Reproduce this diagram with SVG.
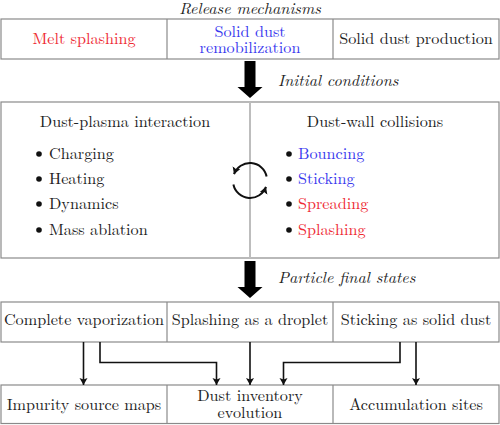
<svg xmlns="http://www.w3.org/2000/svg" width="500" height="425" viewBox="0 0 500 425">
<style>
  text { font-size: 16.2px; fill: #222; }
  .c { text-anchor: middle; }
  .it { font-style: italic; }
  .red { fill: #ee2a33; }
  .blue { fill: #3838ee; }
  .box { fill: #fff; stroke: #8a8a8a; stroke-width: 1.2; }
  .div { stroke: #8a8a8a; stroke-width: 1.2; }
  .conn { fill: none; stroke: #111; stroke-width: 1.6; }
  .big { fill: #000; }
  .cyc { fill: none; stroke: #111; stroke-width: 2; }
</style>
<defs>
  <marker id="ah" markerUnits="userSpaceOnUse" markerWidth="10" markerHeight="10" refX="7" refY="4" orient="auto">
    <path d="M0,0 L7,4 L0,8 L1.5,4 z" fill="#111"/>
  </marker>
  <marker id="ac" markerUnits="userSpaceOnUse" markerWidth="10" markerHeight="10" refX="7" refY="4.5" orient="auto">
    <path d="M0,0.5 L7,4.5 L0,8.5 L1.5,4.5 z" fill="#111"/>
  </marker>
</defs>
<g font-family="'Latin Modern Roman', 'CMU Serif', 'Liberation Serif', Tinos, 'Noto Serif', 'DejaVu Serif', 'Nimbus Roman', FreeSerif, 'Times New Roman', Times, serif">
<text class="c it" x="250" y="13.5">Release mechanisms</text>

<g id="release">
  <rect class="box" x="1" y="19" width="498" height="40"/>
  <line class="div" x1="167" y1="19" x2="167" y2="59"/>
  <line class="div" x1="333" y1="19" x2="333" y2="59"/>
</g>
<g id="melt-splashing"><text class="c red" x="84" y="44">Melt splashing</text></g>
<g id="solid-dust-remob">
  <text class="c blue" x="250" y="36.7">Solid dust<tspan x="250" dy="16.6">remobilization</tspan></text>
</g>
<g id="solid-dust-production"><text class="c" x="416" y="44">Solid dust production</text></g>

<g id="arrow-initial">
  <polygon class="big" points="244.5,61 255.5,61 255.5,87 262.5,87 250,98 237.5,87 244.5,87"/>
  <text class="it" x="278" y="86">Initial conditions</text>
</g>

<g id="interaction">
  <rect class="box" x="1" y="102" width="498" height="156"/>
  <line x1="250" y1="102" x2="250" y2="258" stroke="#bdbdbd" stroke-width="2"/>
</g>
<g id="dust-plasma">
  <text class="c" x="125" y="127">Dust-plasma interaction</text>
  <circle cx="39" cy="154" r="2.8" fill="#111"/><text x="49" y="159">Charging</text>
  <circle cx="39" cy="179" r="2.8" fill="#111"/><text x="49" y="184">Heating</text>
  <circle cx="39" cy="204" r="2.8" fill="#111"/><text x="49" y="209">Dynamics</text>
  <circle cx="39" cy="230" r="2.8" fill="#111"/><text x="49" y="235">Mass ablation</text>
</g>
<g id="dust-wall">
  <text class="c" x="375" y="127">Dust-wall collisions</text>
  <circle cx="289" cy="154" r="2.8" fill="#111"/><text class="blue" x="298" y="159">Bouncing</text>
  <circle cx="289" cy="179" r="2.8" fill="#111"/><text class="blue" x="298" y="184">Sticking</text>
  <circle cx="289" cy="204" r="2.8" fill="#111"/><text class="red" x="298" y="209">Spreading</text>
  <circle cx="289" cy="230" r="2.8" fill="#111"/><text class="red" x="298" y="235">Splashing</text>
</g>
<g id="cycle">
  <path class="cyc" d="M266.6,176.5 A17,17 0 0 0 234,174.2" marker-end="url(#ac)"/>
  <path class="cyc" d="M233.4,184.5 A17,17 0 0 0 266,186.8" marker-end="url(#ac)"/>
</g>

<g id="arrow-final">
  <polygon class="big" points="244.5,261 255.5,261 255.5,287 262.5,287 250,298 237.5,287 244.5,287"/>
  <text class="it" x="278" y="283">Particle final states</text>
</g>

<g id="final-states">
  <rect class="box" x="1" y="302" width="498" height="40"/>
  <line class="div" x1="167" y1="302" x2="167" y2="342"/>
  <line class="div" x1="333" y1="302" x2="333" y2="342"/>
</g>
<g id="complete-vaporization"><text class="c" x="84" y="325">Complete vaporization</text></g>
<g id="splashing-droplet"><text class="c" x="250" y="325">Splashing as a droplet</text></g>
<g id="sticking-solid"><text class="c" x="416" y="325">Sticking as solid dust</text></g>

<g id="outputs">
  <rect class="box" x="1" y="385" width="498" height="38.5"/>
  <line class="div" x1="167" y1="385" x2="167" y2="423.5"/>
  <line class="div" x1="333" y1="385" x2="333" y2="423.5"/>
</g>
<g id="impurity-maps"><text class="c" x="84" y="410">Impurity source maps</text></g>
<g id="dust-inventory">
  <text class="c" x="250" y="400.5">Dust inventory<tspan x="250" dy="17.5">evolution</tspan></text>
</g>
<g id="accumulation"><text class="c" x="416" y="410">Accumulation sites</text></g>
</g>
<g id="connectors">
  <path class="conn" d="M83.5,342 V385" marker-end="url(#ah)"/>
  <path class="conn" d="M100,342 V362.5 H216.5 V385" marker-end="url(#ah)"/>
  <path class="conn" d="M250,342 V385" marker-end="url(#ah)"/>
  <path class="conn" d="M400,342 V362.5 H283.5 V385" marker-end="url(#ah)"/>
  <path class="conn" d="M416,342 V385" marker-end="url(#ah)"/>
</g>
</svg>
